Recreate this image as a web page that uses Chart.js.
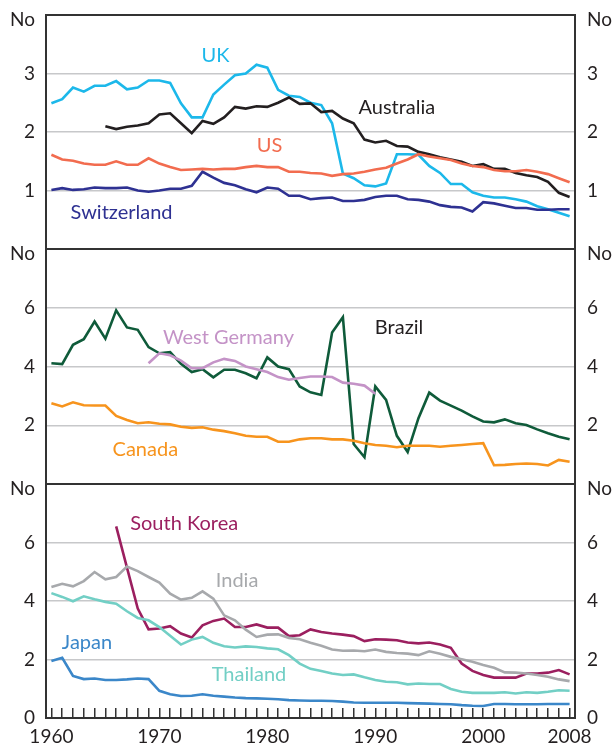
<!DOCTYPE html>
<html>
<head>
<meta charset="utf-8">
<script src="https://cdn.jsdelivr.net/npm/chart.js@4.4.0/dist/chart.umd.min.js"></script>
<style>
  body { margin: 0; background: #fff; }
  #wrap { position: relative; width: 615px; height: 748px; }
  #wrap canvas { position: absolute; left: 0; }
</style>
</head>
<body>
<div id="wrap">
  <canvas id="panel1" width="615" height="261" style="top:0"></canvas>
  <canvas id="panel2" width="615" height="261" style="top:235px"></canvas>
  <canvas id="panel3" width="615" height="278" style="top:470px"></canvas>
</div>
<script>
// categories: one per year
const years = Array.from({ length: 49 }, (_, i) => 1960 + i);
const yearLabels = [1960, 1970, 1980, 1990, 2000, 2008];

// tick labels per panel
const ticksTop = [0, 1, 2, 3, 4];
const ticksLower = [0, 2, 4, 6, 8];

// top panel
const uk = [2.49, 2.56, 2.76, 2.69, 2.79, 2.79, 2.87, 2.73, 2.76, 2.88,
  2.88, 2.84, 2.49, 2.25, 2.25, 2.64, 2.81, 2.97, 3.00, 3.15,
  3.10, 2.72, 2.62, 2.60, 2.50, 2.46, 2.15, 1.29, 1.21, 1.09,
  1.07, 1.12, 1.62, 1.62, 1.61, 1.42, 1.30, 1.11, 1.11, 0.97,
  0.91, 0.88, 0.88, 0.85, 0.81, 0.73, 0.68, 0.62, 0.56];
const australia = [null, null, null, null, null, 2.10, 2.05, 2.09, 2.11, 2.15,
  2.30, 2.32, 2.15, 1.98, 2.19, 2.14, 2.25, 2.43, 2.40, 2.44,
  2.43, 2.50, 2.59, 2.48, 2.49, 2.34, 2.36, 2.23, 2.15, 1.87,
  1.82, 1.85, 1.76, 1.75, 1.66, 1.62, 1.57, 1.53, 1.49, 1.42,
  1.45, 1.37, 1.37, 1.30, 1.26, 1.23, 1.15, 0.96, 0.89];
const us = [1.61, 1.53, 1.51, 1.46, 1.44, 1.44, 1.50, 1.44, 1.44, 1.55,
  1.46, 1.40, 1.35, 1.36, 1.37, 1.36, 1.37, 1.37, 1.40, 1.42,
  1.40, 1.40, 1.32, 1.32, 1.30, 1.29, 1.25, 1.28, 1.29, 1.32,
  1.36, 1.39, 1.46, 1.53, 1.62, 1.58, 1.55, 1.52, 1.46, 1.42,
  1.40, 1.35, 1.33, 1.33, 1.35, 1.32, 1.28, 1.21, 1.14];
const switzerland = [1.01, 1.04, 1.01, 1.02, 1.05, 1.04, 1.04, 1.05, 1.00, 0.98,
  1.00, 1.03, 1.03, 1.08, 1.32, 1.22, 1.13, 1.09, 1.02, 0.97,
  1.05, 1.03, 0.91, 0.91, 0.85, 0.87, 0.88, 0.82, 0.82, 0.84,
  0.89, 0.91, 0.91, 0.85, 0.84, 0.81, 0.75, 0.72, 0.71, 0.64,
  0.80, 0.78, 0.74, 0.70, 0.70, 0.67, 0.67, 0.68, 0.68];

// middle panel
const brazil = [4.11, 4.08, 4.74, 4.93, 5.53, 4.95, 5.91, 5.33, 5.25, 4.66,
  4.45, 4.49, 4.09, 3.81, 3.91, 3.63, 3.89, 3.89, 3.77, 3.60,
  4.31, 4.00, 3.91, 3.32, 3.12, 3.03, 5.16, 5.68, 1.36, 0.91,
  3.32, 2.86, 1.64, 1.09, 2.24, 3.11, 2.84, 2.67, 2.50, 2.30,
  2.13, 2.10, 2.20, 2.07, 2.01, 1.86, 1.73, 1.61, 1.52];
const westGermany = [null, null, null, null, null, null, null, null, null, 4.11,
  4.45, 4.38, 4.20, 3.94, 3.94, 4.14, 4.26, 4.19, 4.00, 3.91,
  3.81, 3.64, 3.55, 3.61, 3.66, 3.66, 3.64, 3.45, 3.41, 3.35,
  3.07, null, null, null, null, null, null, null, null, null,
  null, null, null, null, null, null, null, null, null];
const canada = [2.75, 2.64, 2.78, 2.68, 2.67, 2.67, 2.32, 2.18, 2.07, 2.10,
  2.05, 2.03, 1.95, 1.91, 1.93, 1.85, 1.80, 1.73, 1.64, 1.61,
  1.61, 1.44, 1.44, 1.52, 1.56, 1.56, 1.52, 1.52, 1.47, 1.39,
  1.33, 1.30, 1.25, 1.30, 1.30, 1.30, 1.27, 1.30, 1.33, 1.36,
  1.39, 0.64, 0.65, 0.68, 0.70, 0.68, 0.63, 0.82, 0.76];

// bottom panel
const southKorea = [null, null, null, null, null, null, 6.55, 5.14, 3.74, 3.03,
  3.06, 3.14, 2.89, 2.75, 3.17, 3.32, 3.40, 3.11, 3.11, 3.20,
  3.09, 3.09, 2.80, 2.83, 3.03, 2.94, 2.89, 2.85, 2.80, 2.63,
  2.69, 2.68, 2.66, 2.58, 2.55, 2.58, 2.51, 2.40, 1.86, 1.61,
  1.47, 1.38, 1.38, 1.38, 1.52, 1.52, 1.55, 1.64, 1.49];
const india = [4.48, 4.59, 4.50, 4.68, 4.99, 4.74, 4.82, 5.18, 5.02, 4.82,
  4.63, 4.25, 4.05, 4.11, 4.33, 4.08, 3.51, 3.34, 3.02, 2.77,
  2.85, 2.86, 2.74, 2.69, 2.57, 2.47, 2.34, 2.30, 2.31, 2.28,
  2.34, 2.26, 2.22, 2.20, 2.15, 2.28, 2.20, 2.09, 2.01, 1.92,
  1.81, 1.72, 1.56, 1.55, 1.52, 1.47, 1.41, 1.32, 1.26];
const thailand = [4.27, 4.14, 3.99, 4.16, 4.06, 3.97, 3.91, 3.65, 3.42, 3.34,
  3.11, 2.81, 2.51, 2.68, 2.77, 2.57, 2.45, 2.41, 2.45, 2.43,
  2.38, 2.35, 2.15, 1.86, 1.68, 1.61, 1.52, 1.47, 1.49, 1.39,
  1.30, 1.24, 1.22, 1.15, 1.18, 1.16, 1.16, 0.99, 0.90, 0.86,
  0.86, 0.86, 0.88, 0.84, 0.88, 0.86, 0.90, 0.95, 0.93];
const japan = [1.95, 2.06, 1.44, 1.33, 1.35, 1.30, 1.30, 1.32, 1.35, 1.33,
  0.93, 0.81, 0.75, 0.76, 0.81, 0.76, 0.73, 0.70, 0.68, 0.67,
  0.66, 0.64, 0.61, 0.60, 0.59, 0.59, 0.58, 0.56, 0.53, 0.52,
  0.52, 0.52, 0.52, 0.51, 0.50, 0.49, 0.48, 0.47, 0.44, 0.42,
  0.41, 0.48, 0.48, 0.47, 0.47, 0.47, 0.48, 0.48, 0.48];

const ink = '#231f20';
const gridGrey = '#c7c8ca';
const axisFont = { family: 'Lato', size: 19 };
const labelFont = '20px Lato';

// draws the "No" unit labels and the in-chart series names
const panelText = {
  id: 'panelText',
  afterDraw(chart, args, opts) {
    const ctx = chart.ctx;
    const area = chart.chartArea;
    const x = chart.scales.x;
    const y = chart.scales.y;
    ctx.save();
    ctx.font = '19px Lato';
    ctx.fillStyle = ink;
    ctx.textBaseline = 'middle';
    ctx.textAlign = 'right';
    ctx.fillText('No', area.left - 11, area.top + 5);
    ctx.textAlign = 'left';
    ctx.fillText('No', area.right + 12, area.top + 5);
    ctx.font = labelFont;
    ctx.textAlign = 'center';
    opts.labels.forEach(l => {
      ctx.fillStyle = l.color;
      ctx.fillText(l.text, x.getPixelForValue(l.year - years[0]), y.getPixelForValue(l.value));
    });
    ctx.restore();
  }
};

function line(label, data, color) {
  return { label: label, data: data, borderColor: color, backgroundColor: color,
    borderWidth: 2.6, pointRadius: 0, tension: 0, spanGaps: false };
}

function yAxis(position, ticks, showZero) {
  const max = ticks[ticks.length - 1];
  return {
    position: position,
    min: 0,
    max: max,
    afterBuildTicks: s => { s.ticks = ticks.map(v => ({ value: v })); },
    afterFit: s => {
      s.width = position === 'left' ? 46 : 40;
      s.paddingTop = 0;
      s.paddingBottom = 0;
    },
    ticks: {
      padding: position === 'left' ? 11 : 12,
      color: ink,
      font: axisFont,
      callback: v => (v === max || (v === 0 && !showZero)) ? '' : String(v)
    },
    grid: {
      display: position === 'left',
      drawTicks: false,
      color: c => (c.tick.value === 0 || c.tick.value === max) ? '#333' : gridGrey,
      lineWidth: c => (c.tick.value === 0 || c.tick.value === max) ? 2 : 1.5
    },
    border: { display: true, color: '#333', width: 2 }
  };
}

function makePanel(id, datasets, ticks, labels, showX, padTop, padBottom) {
  return new Chart(document.getElementById(id), {
    type: 'line',
    data: { labels: years, datasets: datasets },
    options: {
      responsive: false,
      animation: false,
      events: [],
      layout: { padding: { top: padTop, bottom: padBottom, left: 0, right: 0 } },
      plugins: {
        legend: { display: false },
        tooltip: { enabled: false },
        panelText: { labels: labels }
      },
      scales: {
        x: {
          type: 'category',
          offset: true,
          display: showX,
          afterFit: s => {
            s.height = showX ? 30 : 0;
            s.paddingLeft = 0;
            s.paddingRight = 0;
          },
          grid: { offset: false, drawOnChartArea: false, drawTicks: true, tickLength: -10, color: '#333', lineWidth: 1.5 },
          border: { display: true, color: '#333', width: 2 },
          ticks: {
            autoSkip: false,
            maxRotation: 0,
            padding: 17,
            color: ink,
            font: axisFont,
            callback: (v, i) => yearLabels.includes(years[i]) ? String(years[i]) : ''
          }
        },
        y: yAxis('left', ticks, showX),
        yR: yAxis('right', ticks, showX)
      }
    },
    plugins: [panelText]
  });
}

makePanel('panel1', [
  line('US', us, '#f26c4f'),
  line('Switzerland', switzerland, '#2e3192'),
  line('Australia', australia, ink),
  line('UK', uk, '#1cb8ea')
], ticksTop, [
  { text: 'UK', year: 1975.2, value: 3.30, color: '#1cb8ea' },
  { text: 'Australia', year: 1992.0, value: 2.41, color: ink },
  { text: 'US', year: 1980.2, value: 1.76, color: '#f26c4f' },
  { text: 'Switzerland', year: 1966.5, value: 0.62, color: '#2e3192' }
], false, 15, 12);

makePanel('panel2', [
  line('Canada', canada, '#f7941d'),
  line('West Germany', westGermany, '#c493c7'),
  line('Brazil', brazil, '#0f5b3a')
], ticksLower, [
  { text: 'West Germany', year: 1976.4, value: 4.98, color: '#c493c7' },
  { text: 'Brazil', year: 1992.2, value: 5.32, color: ink },
  { text: 'Canada', year: 1968.7, value: 1.16, color: '#f7941d' }
], false, 14, 12);

makePanel('panel3', [
  line('Japan', japan, '#3b87c9'),
  line('Thailand', thailand, '#72cfc5'),
  line('India', india, '#a7a9ac'),
  line('South Korea', southKorea, '#9b1f5f')
], ticksLower, [
  { text: 'South Korea', year: 1972.3, value: 6.65, color: '#9b1f5f' },
  { text: 'India', year: 1977.2, value: 4.70, color: '#a7a9ac' },
  { text: 'Japan', year: 1963.3, value: 2.59, color: '#3b87c9' },
  { text: 'Thailand', year: 1978.3, value: 1.47, color: '#72cfc5' }
], true, 14, 0);
</script>
</body>
</html>
